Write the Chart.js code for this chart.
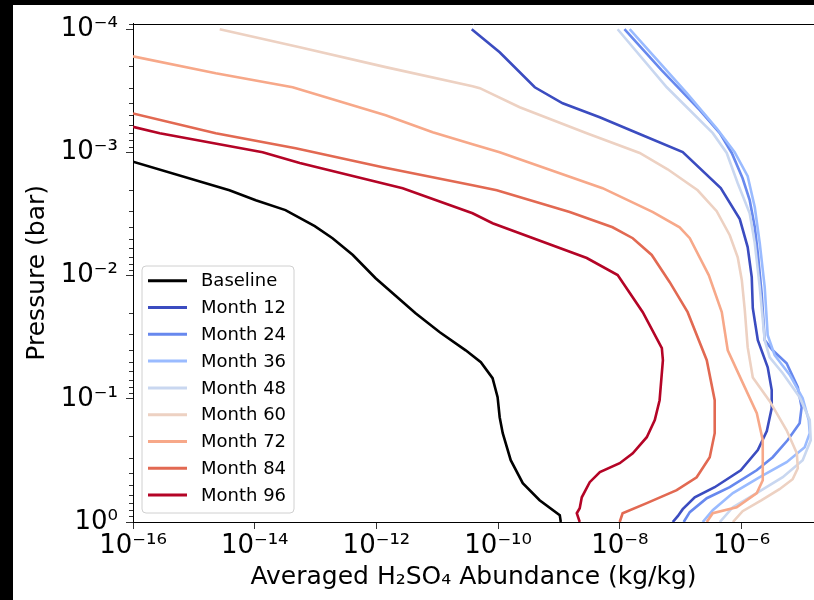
<!DOCTYPE html>
<html>
<head>
<meta charset="utf-8">
<script src="https://cdn.jsdelivr.net/npm/chart.js@4"></script>
<style>
html,body{margin:0;padding:0;background:#000;overflow:hidden;}
#wrap{position:absolute;left:0;top:0;width:814px;height:600px;}
</style>
</head>
<body>
<div id="wrap"><canvas id="c" width="814" height="600"></canvas></div>
<script>
// ---------- data (pressure in bar, abundance in kg/kg) ----------
const seriesLabels = ['Baseline','Month 12','Month 24','Month 36','Month 48','Month 60','Month 72','Month 84','Month 96'];
const seriesColors = ['#000000','#3b4cc0','#6788ee','#9abbff','#c9d7f0','#edd1c2','#f7a889','#e26952','#b40426'];

const baselineP = [1.19e-3, 2.03e-3, 2.44e-3, 2.94e-3, 3.97e-3, 4.97e-3, 6.8e-3, 1.05e-2, 2.02e-2, 2.88e-2, 4.04e-2, 5.05e-2, 6.8e-2, 9.7e-2, 0.141, 0.19, 0.315, 0.484, 0.665, 0.88, 1.0];
const baselineA = [1.0e-16, 3.84e-15, 1.04e-14, 3.2e-14, 9.7e-14, 1.9e-13, 4.1e-13, 9.7e-13, 4.4e-12, 1.1e-11, 2.93e-11, 5.2e-11, 8.1e-11, 9.8e-11, 1.06e-10, 1.19e-10, 1.61e-10, 2.54e-10, 4.8e-10, 1.03e-9, 1.07e-9];

const month12P = [1.0e-4, 1.54e-4, 2.96e-4, 3.99e-4, 5.18e-4, 6.98e-4, 9.95e-4, 1.95e-3, 3.48e-3, 5.87e-3, 1.03e-2, 1.84e-2, 3.34e-2, 5.55e-2, 8.5e-2, 0.119, 0.183, 0.261, 0.38, 0.522, 0.63, 0.787, 0.897, 1.0];
const month12A = [3.68e-11, 1.06e-10, 4.0e-10, 1.15e-9, 4.67e-9, 1.97e-8, 1.08e-7, 4.55e-7, 9.35e-7, 1.26e-6, 1.47e-6, 1.53e-6, 1.85e-6, 2.69e-6, 3.13e-6, 3.13e-6, 2.6e-6, 1.85e-6, 9.7e-7, 3.62e-7, 1.7e-7, 1.08e-7, 8.95e-8, 7.4e-8];

const month24P = [1.0e-4, 2.15e-4, 4.54e-4, 6.98e-4, 1.01e-3, 1.62e-3, 2.44e-3, 4.05e-3, 6.6e-3, 1.39e-2, 3.34e-2, 4.04e-2, 5.14e-2, 8.05e-2, 0.117, 0.158, 0.217, 0.298, 0.38, 0.522, 0.641, 0.832, 1.0];
const month24A = [1.19e-8, 4.84e-8, 2.06e-7, 4.39e-7, 6.9e-7, 1.04e-6, 1.36e-6, 1.65e-6, 1.85e-6, 2.14e-6, 2.4e-6, 3.25e-6, 5.5e-6, 8.4e-6, 9.7e-6, 9.0e-6, 5.7e-6, 3.25e-6, 1.77e-6, 6.4e-7, 2.68e-7, 1.41e-7, 1.12e-7];

const month36P = [1.0e-4, 3.3e-4, 6.4e-4, 9.95e-4, 1.56e-3, 2.79e-3, 5.46e-3, 1.24e-2, 3.05e-2, 4.43e-2, 6.4e-2, 9.9e-2, 0.149, 0.19, 0.247, 0.327, 0.433, 0.583, 0.802, 1.0];
const month36A = [1.45e-8, 1.26e-7, 3.92e-7, 7.7e-7, 1.26e-6, 1.65e-6, 1.99e-6, 2.4e-6, 2.69e-6, 3.5e-6, 6.2e-6, 1.01e-5, 1.27e-5, 1.32e-5, 1.09e-5, 5.5e-6, 1.99e-6, 7.2e-7, 3.36e-7, 2.3e-7];

const month48P = [1.0e-4, 2.96e-4, 6.98e-4, 1.01e-3, 1.78e-3, 3.12e-3, 5.46e-3, 1.24e-2, 3.34e-2, 4.6e-2, 6.2e-2, 9.7e-2, 0.149, 0.217, 0.315, 0.433, 0.583, 0.759, 1.0];
const month48A = [9.2e-9, 5.9e-8, 3.37e-7, 5.7e-7, 8.65e-7, 1.36e-6, 1.65e-6, 1.99e-6, 2.4e-6, 2.9e-6, 4.75e-6, 9.0e-6, 1.32e-5, 1.37e-5, 1.01e-5, 4.75e-6, 1.77e-6, 7.2e-7, 4.39e-7];

const month60P = [1.0e-4, 1.4e-4, 2.03e-4, 2.9e-4, 3.01e-4, 4.3e-4, 6.98e-4, 1.01e-3, 1.37e-3, 2.03e-3, 3.0e-3, 4.7e-3, 7.1e-3, 1.09e-2, 1.91e-2, 3.81e-2, 6.7e-2, 0.1045, 0.18, 0.277, 0.366, 0.45, 0.542, 0.665, 0.817, 1.0];
const month60A = [2.66e-15, 5.5e-14, 1.42e-12, 3.8e-11, 5.0e-11, 2.26e-10, 2.86e-9, 2.12e-8, 6.1e-8, 1.9e-7, 3.9e-7, 6.4e-7, 8.65e-7, 1.01e-6, 1.13e-6, 1.26e-6, 1.53e-6, 2.9e-6, 5.5e-6, 8.1e-6, 8.4e-6, 6.9e-6, 4.2e-6, 2.14e-6, 1.04e-6, 7.2e-7];

const month72P = [1.66e-4, 2.28e-4, 2.96e-4, 4.99e-4, 6.86e-4, 8.6e-4, 9.95e-4, 1.95e-3, 3.05e-3, 4.05e-3, 4.97e-3, 9.9e-3, 1.98e-2, 4.04e-2, 7.46e-2, 0.131, 0.217, 0.458, 0.583, 0.759, 0.849, 1.0];
const month72A = [1.0e-16, 2.29e-15, 4.2e-14, 1.42e-12, 8.4e-12, 3.8e-11, 1.06e-10, 5.2e-9, 3.5e-8, 9.6e-8, 1.41e-7, 2.89e-7, 4.73e-7, 5.93e-7, 1.05e-6, 1.78e-6, 2.23e-6, 2.23e-6, 1.78e-6, 8.3e-7, 3.36e-7, 2.68e-7];

const month84P = [4.83e-4, 6.98e-4, 9.25e-4, 1.32e-3, 1.85e-3, 2.03e-3, 3.05e-3, 4.05e-3, 4.97e-3, 6.8e-3, 1.13e-2, 1.98e-2, 4.86e-2, 0.1026, 0.19, 0.298, 0.433, 0.552, 0.703, 0.849, 1.0];
const month84A = [1.0e-16, 2.29e-15, 4.7e-14, 1.27e-12, 3.8e-11, 9.5e-11, 1.5e-9, 7.6e-9, 1.63e-8, 3.34e-8, 6.6e-8, 1.3e-7, 2.68e-7, 3.62e-7, 3.62e-7, 3.0e-7, 1.83e-7, 8.6e-8, 2.77e-8, 1.11e-8, 9.95e-9];

const month96P = [6.2e-4, 6.98e-4, 9.95e-4, 1.22e-3, 1.95e-3, 3.12e-3, 3.76e-3, 7.2e-3, 9.9e-3, 1.98e-2, 3.88e-2, 4.86e-2, 0.1026, 0.149, 0.205, 0.277, 0.333, 0.394, 0.475, 0.63, 0.773, 0.849, 1.0];
const month96A = [1.0e-16, 2.75e-16, 1.35e-14, 5.5e-14, 2.7e-12, 3.8e-11, 8.1e-11, 2.86e-9, 9.2e-9, 2.38e-8, 4.9e-8, 5.1e-8, 4.5e-8, 3.75e-8, 2.77e-8, 1.63e-8, 9.95e-9, 4.7e-9, 3.2e-9, 2.37e-9, 2.19e-9, 1.96e-9, 2.19e-9];

const xTickValues = [1e-16, 1e-14, 1e-12, 1e-10, 1e-8, 1e-6];
const xTickLabels = ['10⁻¹⁶', '10⁻¹⁴', '10⁻¹²', '10⁻¹⁰', '10⁻⁸', '10⁻⁶'];
const yTickValues = [1e-4, 1e-3, 1e-2, 1e-1, 1];
const yTickLabels = ['10⁻⁴', '10⁻³', '10⁻²', '10⁻¹', '10⁰'];
const xTitle = 'Averaged H₂SO₄ Abundance (kg/kg)';
const yTitle = 'Pressure (bar)';

// ---------- chart ----------
const FONT = "'DejaVu Sans', sans-serif";
const pList = [baselineP, month12P, month24P, month36P, month48P, month60P, month72P, month84P, month96P];
const aList = [baselineA, month12A, month24A, month36A, month48A, month60A, month72A, month84A, month96A];

const datasets = seriesLabels.map((lab, i) => ({
  label: lab,
  data: pList[i].map((p, j) => ({ x: aList[i][j], y: p })),
  borderColor: seriesColors[i],
  backgroundColor: seriesColors[i],
  borderWidth: 2.6,
  pointRadius: 0,
  showLine: true,
  tension: 0,
  fill: false,
  order: seriesLabels.length - i
}));

const bgPlugin = {
  id: 'bg',
  beforeDraw(chart) {
    const ctx = chart.ctx;
    ctx.save();
    ctx.fillStyle = '#000';
    ctx.fillRect(0, 0, chart.width, chart.height);
    ctx.fillStyle = '#fff';
    ctx.fillRect(13, 5, chart.width - 13, chart.height - 5);
    ctx.restore();
  }
};

const framePlugin = {
  id: 'frame',
  afterDraw(chart) {
    const ctx = chart.ctx;
    const a = chart.chartArea;
    const ys = chart.scales.y;
    ctx.save();
    // top spine
    ctx.strokeStyle = '#000';
    ctx.lineWidth = 1;
    ctx.beginPath();
    ctx.moveTo(a.left, Math.round(a.top) + 0.5);
    ctx.lineTo(a.right, Math.round(a.top) + 0.5);
    ctx.stroke();
    // y minor ticks
    ctx.strokeStyle = '#333';
    for (let n = -5; n <= 0; n++) {
      for (let k = 2; k <= 9; k++) {
        const v = k * Math.pow(10, n);
        if (v < ys.min || v > ys.max) continue;
        const y = Math.round(ys.getPixelForValue(v)) + 0.5;
        ctx.beginPath();
        ctx.moveTo(a.left - 4, y);
        ctx.lineTo(a.left, y);
        ctx.stroke();
      }
    }
    // legend
    const lx = 142, ly = 266, lw = 152, lh = 247, r = 4;
    ctx.fillStyle = 'rgba(255,255,255,0.85)';
    ctx.strokeStyle = '#d0d0d0';
    ctx.lineWidth = 1;
    ctx.beginPath();
    ctx.moveTo(lx + r, ly);
    ctx.lineTo(lx + lw - r, ly);
    ctx.quadraticCurveTo(lx + lw, ly, lx + lw, ly + r);
    ctx.lineTo(lx + lw, ly + lh - r);
    ctx.quadraticCurveTo(lx + lw, ly + lh, lx + lw - r, ly + lh);
    ctx.lineTo(lx + r, ly + lh);
    ctx.quadraticCurveTo(lx, ly + lh, lx, ly + lh - r);
    ctx.lineTo(lx, ly + r);
    ctx.quadraticCurveTo(lx, ly, lx + r, ly);
    ctx.closePath();
    ctx.fill();
    ctx.stroke();
    ctx.font = '18px ' + FONT;
    ctx.textBaseline = 'middle';
    ctx.textAlign = 'left';
    chart.data.datasets.forEach((ds, i) => {
      const y = 280.7 + i * 26.8;
      ctx.strokeStyle = ds.borderColor;
      ctx.lineWidth = 3;
      ctx.beginPath();
      ctx.moveTo(148, y);
      ctx.lineTo(187, y);
      ctx.stroke();
      ctx.fillStyle = '#000';
      ctx.fillText(ds.label, 201, y + 1);
    });
    ctx.restore();
  }
};

new Chart(document.getElementById('c'), {
  type: 'scatter',
  data: { datasets },
  plugins: [bgPlugin, framePlugin],
  options: {
    responsive: false,
    animation: false,
    devicePixelRatio: 1,
    layout: { padding: { top: 23, right: 0, left: 0, bottom: 0 } },
    plugins: { legend: { display: false }, tooltip: { enabled: false } },
    scales: {
      x: {
        type: 'logarithmic',
        position: 'bottom',
        min: 1e-16,
        max: 1.55e-5,
        afterBuildTicks: s => { s.ticks = xTickValues.map(v => ({ value: v })); },
        afterFit: s => { s.height = 78; },
        grid: { display: true, drawOnChartArea: false, drawTicks: true, tickLength: 7, tickColor: '#333', tickWidth: 1 },
        border: { display: true, color: '#000', width: 1 },
        ticks: {
          autoSkip: false, maxRotation: 0, minRotation: 0, padding: 2, color: '#000',
          font: { family: FONT, size: 26 },
          callback: (v, i) => xTickLabels[i]
        },
        title: { display: true, text: xTitle, color: '#000', font: { family: FONT, size: 25 }, padding: { top: 0, bottom: 8 } }
      },
      y: {
        type: 'logarithmic',
        position: 'left',
        reverse: true,
        min: 9.0e-5,
        max: 1,
        afterBuildTicks: s => { s.ticks = yTickValues.map(v => ({ value: v })); },
        afterFit: s => { s.width = 133; },
        grid: { display: true, drawOnChartArea: false, drawTicks: true, tickLength: 7, tickColor: '#333', tickWidth: 1 },
        border: { display: true, color: '#000', width: 1 },
        ticks: {
          autoSkip: false, padding: 8, color: '#000',
          font: { family: FONT, size: 26 },
          callback: (v, i) => yTickLabels[i]
        },
        title: { display: true, text: yTitle, color: '#000', font: { family: FONT, size: 25 }, padding: { top: 22, bottom: 0 } }
      }
    }
  }
});
</script>
</body>
</html>
